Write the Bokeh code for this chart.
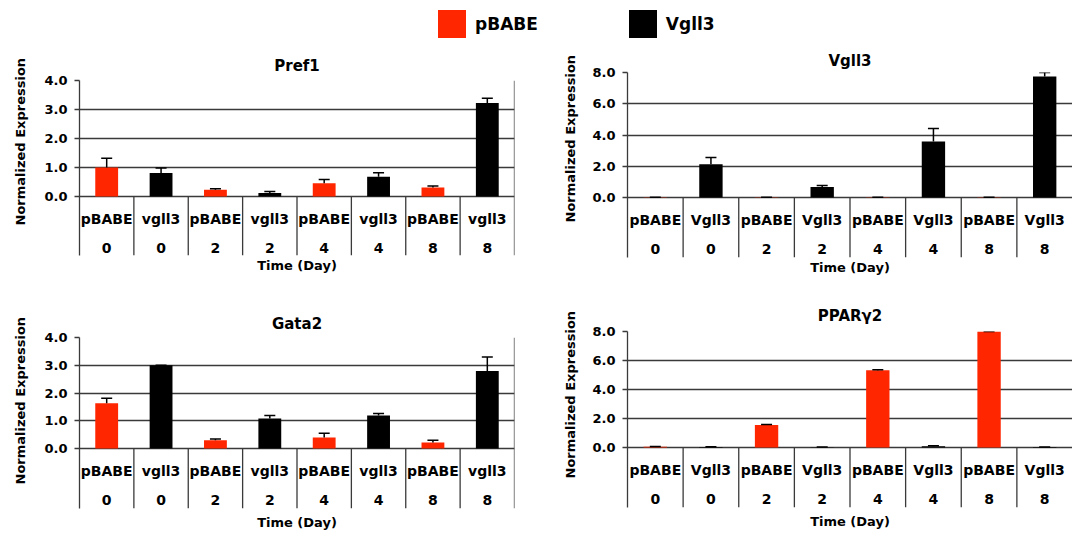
from bokeh.plotting import figure
from bokeh.models import (FactorRange, Range1d, FixedTicker, NumeralTickFormatter, Whisker,
                          TeeHead, ColumnDataSource, Title, Span, Legend, LegendItem)
from bokeh.layouts import column, row
from bokeh.embed import file_html
from bokeh.resources import INLINE
from bokeh.core.properties import value

# ---------------- data ----------------
days = ["0", "0", "2", "2", "4", "4", "8", "8"]
groups = ["pBABE", "Vgll3", "pBABE", "Vgll3", "pBABE", "Vgll3", "pBABE", "Vgll3"]
labels_lower = ["pBABE", "vgll3", "pBABE", "vgll3", "pBABE", "vgll3", "pBABE", "vgll3"]
labels_upper = ["pBABE", "Vgll3", "pBABE", "Vgll3", "pBABE", "Vgll3", "pBABE", "Vgll3"]

pref1_vals = [1.00, 0.81, 0.23, 0.12, 0.46, 0.68, 0.31, 3.22]
pref1_err = [0.32, 0.17, 0.04, 0.05, 0.13, 0.14, 0.05, 0.17]

vgll3_vals = [0.01, 2.13, 0.01, 0.68, 0.01, 3.58, 0.01, 7.74]
vgll3_err = [0.00, 0.43, 0.00, 0.09, 0.00, 0.83, 0.00, 0.26]

gata2_vals = [1.63, 3.00, 0.30, 1.08, 0.40, 1.19, 0.22, 2.79]
gata2_err = [0.18, 0.00, 0.04, 0.11, 0.15, 0.07, 0.08, 0.51]

ppar_vals = [0.05, 0.03, 1.55, 0.02, 5.33, 0.08, 8.00, 0.03]
ppar_err = [0.02, 0.02, 0.04, 0.01, 0.04, 0.04, 0.00, 0.01]

legend_labels = ["pBABE", "Vgll3"]
colors = {"pBABE": "#ff2600", "Vgll3": "#000000"}

FONT = "DejaVu Sans"
LINE = "#3a3a3a"
LW = 1.3


def panel(title, cat_labels, vals, errs, ymax, yticks, W, H, left, right, top,
          plot_h, label_h, title_so, time_so, ylab_so, ylab_off, draw_right):
    n = len(groups)
    keys = [f"{g}|{d}|{i}" for i, (g, d) in enumerate(zip(groups, days))]
    frame_h = plot_h + label_h
    bottom = H - top - frame_h
    ppu = plot_h / ymax
    ystart = -label_h / ppu

    p = figure(width=W, height=H,
               x_range=FactorRange(factors=keys, range_padding=0, factor_padding=0),
               y_range=Range1d(ystart, ymax),
               output_backend="svg", toolbar_location=None, x_axis_location=None,
               min_border_left=left, min_border_right=right,
               min_border_top=top, min_border_bottom=bottom,
               outline_line_color=None, background_fill_color="white",
               border_fill_color="white")
    p.xgrid.visible = False

    # title
    p.title.text = title
    p.title.align = "center"
    p.title.text_font = FONT
    p.title.text_font_style = "bold"
    p.title.text_font_size = "15px"
    p.title.text_color = "black"
    p.title.standoff = title_so

    # y axis
    ax = p.yaxis[0]
    ax.ticker = FixedTicker(ticks=yticks)
    ax.formatter = NumeralTickFormatter(format="0.0")
    ax.major_label_text_font = FONT
    ax.major_label_text_font_style = "bold"
    ax.major_label_text_font_size = "13px"
    ax.major_label_text_color = "black"
    ax.axis_line_color = LINE
    ax.axis_line_width = LW
    ax.major_tick_line_color = LINE
    ax.major_tick_line_width = LW
    ax.major_tick_out = 5
    ax.major_tick_in = 0
    ax.minor_tick_out = 0
    ax.minor_tick_in = 0
    ax.major_label_standoff = 7

    g = p.ygrid[0]
    g.ticker = FixedTicker(ticks=yticks)
    g.grid_line_color = LINE
    g.grid_line_width = LW

    # y axis title, centred on the value area
    p.add_layout(Title(text="Normalized Expression", align="left", vertical_align="top",
                       offset=ylab_off, standoff=ylab_so, text_font=FONT,
                       text_font_style="bold", text_font_size="13px",
                       text_color="black"), "left")

    # bars + error bars
    src = ColumnDataSource(dict(
        x=keys, top=vals, upper=[v + e for v, e in zip(vals, errs)],
        color=[colors[gr] for gr in groups]))
    p.vbar(x="x", top="top", width=0.42, fill_color="color", line_color=None, source=src)
    p.add_layout(Whisker(source=src, base="x", lower="top", upper="upper", dimension="height",
                         line_color="black", line_width=1.5,
                         upper_head=TeeHead(size=11, line_color="black", line_width=1.5),
                         lower_head=None, level="glyph"))

    # category table separators
    seps = list(range(1, n))
    p.segment(x0=seps, y0=[0] * len(seps), x1=seps, y1=[ystart] * len(seps),
              line_color=LINE, line_width=LW)
    if draw_right:
        p.add_layout(Span(location=n, dimension="height", line_color=LINE, line_width=LW))

    # two-row category labels
    p.text(x=keys, y=[-22 / ppu] * n, text=cat_labels,
           text_font=value(FONT), text_font_style="bold", text_font_size="14px",
           text_align="center", text_baseline="middle", text_color="black")
    p.text(x=keys, y=[-51.5 / ppu] * n, text=days,
           text_font=value(FONT), text_font_style="bold", text_font_size="14px",
           text_align="center", text_baseline="middle", text_color="black")

    # x axis title
    p.add_layout(Title(text="Time (Day)", align="center", text_font=FONT,
                       text_font_style="bold", text_font_size="13px", text_color="black",
                       standoff=time_so), "below")
    return p


f1 = panel("Pref1", labels_lower, pref1_vals, pref1_err, 4.0, [0, 1, 2, 3, 4],
           540, 241, 77, 26, 36, 116, 59, 11, 0, 24, 30, True)
f3 = panel("Gata2", labels_lower, gata2_vals, gata2_err, 4.0, [0, 1, 2, 3, 4],
           540, 248, 77, 26, 52, 111, 60, 9, 8, 24, 24, True)
f2 = panel("Vgll3", labels_upper, vgll3_vals, vgll3_err, 8.0, [0, 2, 4, 6, 8],
           532, 241, 87, 0, 28, 125, 60, 5, 0, 20, 35, False)
f4 = panel("PPARγ2", labels_upper, ppar_vals, ppar_err, 8.0, [0, 2, 4, 6, 8],
           532, 248, 87, 0, 46, 116, 60, 13, 9, 20, 29, False)

# legend strip
lg = figure(width=1072, height=44, x_range=Range1d(0, 1), y_range=Range1d(0, 1),
            output_backend="svg", toolbar_location=None,
            x_axis_location=None, y_axis_location=None,
            min_border_left=0, min_border_right=0, min_border_top=0, min_border_bottom=0,
            outline_line_color=None)
lg.grid.visible = False
items = []
for lab in legend_labels:
    r = lg.vbar(x=[-5], top=[-5], width=0.5, fill_color=colors[lab], line_color=None)
    items.append(LegendItem(label=lab, renderers=[r]))
leg = Legend(items=items, orientation="horizontal", location=(434, 3),
             glyph_width=35, glyph_height=35, label_standoff=6, spacing=87,
             padding=0, margin=0, border_line_color=None, background_fill_alpha=0,
             label_text_font=FONT, label_text_font_style="bold",
             label_text_font_size="17px", label_text_color="black")
lg.add_layout(leg)

layout = column(lg, row(column(f1, f3), column(f2, f4)))
open("out.html", "w").write(file_html(layout, INLINE))
